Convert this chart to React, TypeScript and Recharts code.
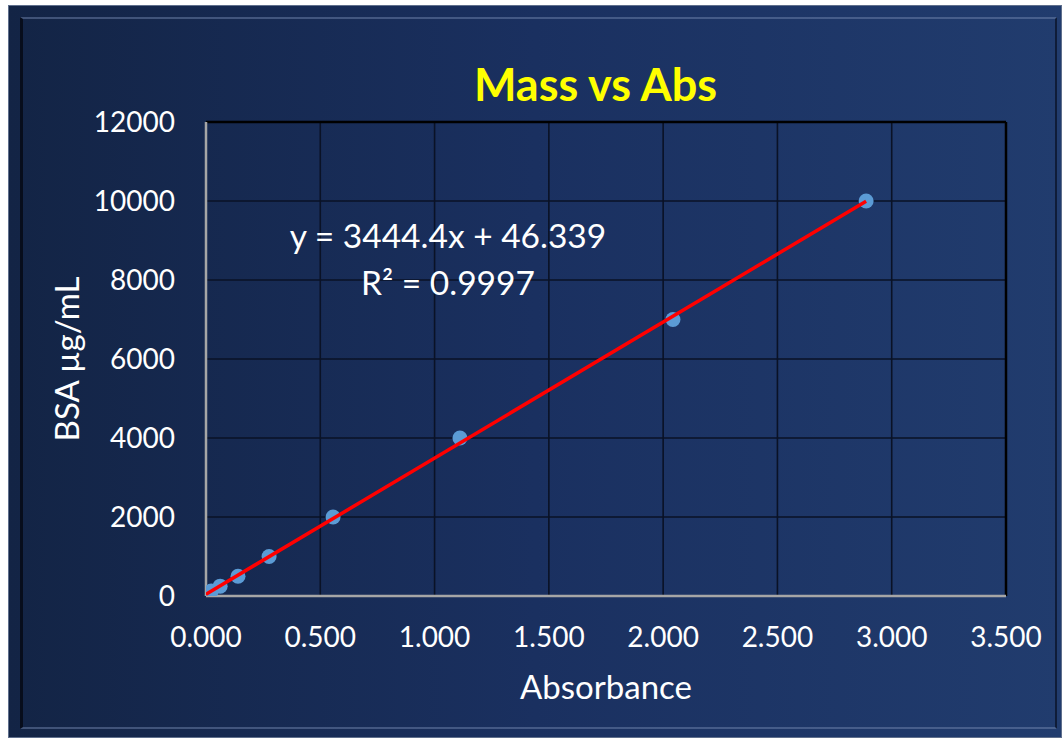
import React from "react";
import {
  ScatterChart,
  Scatter,
  XAxis,
  YAxis,
  CartesianGrid,
  ReferenceLine,
  Label,
} from "recharts";

const absorbance = [0, 0.023, 0.062, 0.14, 0.276, 0.556, 1.111, 2.043, 2.888];
const massBSA = [0, 125, 250, 500, 1000, 2000, 4000, 7000, 10000];
const xTicks = [0, 0.5, 1, 1.5, 2, 2.5, 3, 3.5];
const yTicks = [0, 2000, 4000, 6000, 8000, 10000, 12000];
const slope = 3444.4;
const intercept = 46.339;
const rSquared = "0.9997";

const points = absorbance.map((x, i) => ({ x, y: massBSA[i] }));
const xMin = Math.min(...absorbance);
const xMax = Math.max(...absorbance);
const trend = [
  { x: xMin, y: slope * xMin + intercept },
  { x: xMax, y: slope * xMax + intercept },
];

const font = "Lato, 'Open Sans', sans-serif";

const Dot = (props: any) => (
  <circle cx={props.cx} cy={props.cy} r={7.5} fill="#5b9bd5" />
);

export default function App() {
  return (
    <div
      style={{
        position: "absolute",
        left: 8,
        top: 5,
        width: 1054,
        height: 733,
        background: "linear-gradient(90deg, #132445 0%, #1a3060 50%, #213c6e 100%)",
        border: "1px solid #5f6f8c",
        boxSizing: "border-box",
        fontFamily: font,
        overflow: "hidden",
      }}
    >
      <div
        style={{
          position: "absolute",
          left: 11,
          top: 11,
          right: 4,
          bottom: 8,
          borderTop: "2px solid rgba(120,140,180,0.45)",
          borderLeft: "3px solid #070d1c",
          borderRight: "2px solid #0f1c38",
          borderBottom: "2px solid rgba(120,140,180,0.45)",
        }}
      />
      <ScatterChart
        width={1054}
        height={733}
        margin={{ top: 117, right: 56, left: 0, bottom: 0 }}
        style={{ position: "absolute", left: -1, top: -1 }}
      >
        <CartesianGrid stroke="#0a1226" strokeWidth={1.6} />
        <XAxis
          type="number"
          dataKey="x"
          domain={[0, 3.5]}
          ticks={xTicks}
          tickFormatter={(v: number) => v.toFixed(3)}
          height={142}
          tickSize={0}
          tickMargin={31}
          tickLine={false}
          axisLine={{ stroke: "#a6a6a6", strokeWidth: 2.5 }}
          tick={{ fill: "#ffffff", fontSize: 28, fontFamily: font }}
          allowDataOverflow
        >
          <Label
            value="Absorbance"
            position="center"
            dy={20}
            fill="#ffffff"
            fontSize={33}
            fontFamily={font}
          />
        </XAxis>
        <YAxis
          type="number"
          dataKey="y"
          domain={[0, 12000]}
          ticks={yTicks}
          width={198}
          tickSize={0}
          tickMargin={31}
          tickLine={false}
          axisLine={{ stroke: "#a6a6a6", strokeWidth: 2.5 }}
          tick={{ fill: "#ffffff", fontSize: 28, fontFamily: font }}
          allowDataOverflow
        >
          <Label
            value="BSA µg/mL"
            position="center"
            angle={-90}
            dx={-40}
            fill="#ffffff"
            fontSize={33}
            fontFamily={font}
          />
        </YAxis>
        <ReferenceLine y={12000} stroke="#000000" strokeWidth={2.5} />
        <ReferenceLine x={3.5} stroke="#000000" strokeWidth={2.5} />
        <Scatter data={points} shape={Dot} isAnimationActive={false} />
        <Scatter
          data={trend}
          line={{ stroke: "#ff0000", strokeWidth: 3.5 }}
          shape={() => <g />}
          isAnimationActive={false}
        />
      </ScatterChart>
      <div
        style={{
          position: "absolute",
          left: 0,
          width: 1173,
          top: 56,
          textAlign: "center",
          color: "#ffff00",
          fontWeight: 700,
          fontSize: 45,
          lineHeight: 1,
          whiteSpace: "nowrap",
        }}
      >
        Mass vs Abs
      </div>
      <div
        style={{
          position: "absolute",
          left: 0,
          width: 878,
          top: 206,
          textAlign: "center",
          color: "#ffffff",
          fontSize: 33.5,
          lineHeight: "47px",
          whiteSpace: "nowrap",
        }}
      >
        <div>y = {slope}x + {intercept}</div>
        <div>R² = {rSquared}</div>
      </div>
    </div>
  );
}
